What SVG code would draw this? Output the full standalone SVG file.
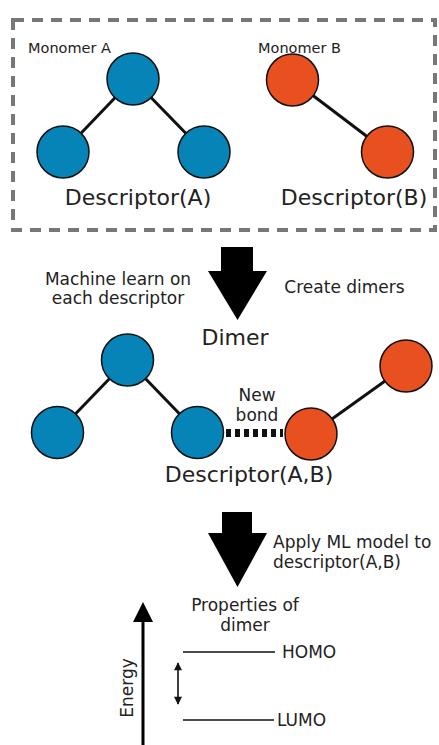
<svg xmlns="http://www.w3.org/2000/svg" width="439" height="745" viewBox="0 0 439 745">
  <defs>
    <style>
      text { font-family: "DejaVu Sans", Verdana, sans-serif; fill: #222; }
      .big { font-size: 22px; }
      .mid { font-size: 17px; }
      .small { font-size: 14.5px; }
      .atomA { fill: #0684b8; stroke: #111; stroke-width: 1.5; }
      .atomB { fill: #e8511f; stroke: #111; stroke-width: 1.5; }
      .bond { stroke: #111; stroke-width: 3; fill: none; }
      .level { stroke: #111; stroke-width: 1.5; fill: none; }
      .frame { fill: none; stroke: #777; stroke-width: 4; stroke-dasharray: 11 8; }
    </style>
    <marker id="tip" viewBox="0 0 10 10" refX="9" refY="5" markerWidth="10" markerHeight="8" markerUnits="userSpaceOnUse" orient="auto-start-reverse">
      <path d="M0,0 L10,5 L0,10 Z" fill="#111"/>
    </marker>
  </defs>

  <rect fill="#fff" x="0" y="0" width="439" height="745"/>

  <!-- monomers enclosure -->
  <rect id="monomers-frame" class="frame" x="13" y="20" width="422" height="210"/>

  <!-- connectors -->
  <g id="connectors">
    <!-- monomer A bonds -->
    <line class="bond" x1="133" y1="79" x2="63" y2="152"/>
    <line class="bond" x1="133" y1="79" x2="204" y2="152"/>
    <!-- monomer B bond -->
    <line class="bond" x1="292.5" y1="80" x2="387.5" y2="152"/>
    <!-- dimer bonds -->
    <line class="bond" x1="127.5" y1="360" x2="57.5" y2="432.5"/>
    <line class="bond" x1="127.5" y1="360" x2="197.5" y2="432.5"/>
    <line class="bond" x1="311" y1="434" x2="406" y2="366"/>
    <!-- new bond between the monomers -->
    <line x1="226" y1="433" x2="283" y2="433" stroke="#111" stroke-width="8" stroke-dasharray="5 4"/>
    <!-- process arrows -->
    <path d="M221,247 H253 V271 H267 L237.5,320 L208,271 H221 Z" fill="#000"/>
    <path d="M222,512 H252 V533 H267 L237.5,587 L208,533 H222 Z" fill="#000"/>
    <!-- energy axis -->
    <line x1="143" y1="745" x2="143" y2="620" stroke="#000" stroke-width="3"/>
    <path d="M133,622 L153,622 L143,602 Z" fill="#000"/>
    <!-- gap arrow -->
    <line x1="178" y1="663" x2="178" y2="704" stroke="#111" stroke-width="1.6" marker-start="url(#tip)" marker-end="url(#tip)"/>
  </g>

  <!-- monomer A -->
  <g id="monomer-a">
    <circle class="atomA" cx="133" cy="79" r="26"/>
    <circle class="atomA" cx="63" cy="152" r="26"/>
    <circle class="atomA" cx="204" cy="152" r="26"/>
    <text class="small" x="28" y="53">Monomer A</text>
    <text class="big" x="138" y="205" text-anchor="middle">Descriptor(A)</text>
  </g>

  <!-- monomer B -->
  <g id="monomer-b">
    <circle class="atomB" cx="292.5" cy="80" r="26"/>
    <circle class="atomB" cx="387.5" cy="152" r="26"/>
    <text class="small" x="258" y="53">Monomer B</text>
    <text class="big" x="354" y="205" text-anchor="middle">Descriptor(B)</text>
  </g>

  <!-- step labels -->
  <g id="step-labels">
    <text class="mid" text-anchor="middle"><tspan x="118" y="285">Machine learn on</tspan><tspan x="118" y="304">each descriptor</tspan></text>
    <text class="mid" x="344.5" y="293" text-anchor="middle">Create dimers</text>
    <text class="mid" x="273" y="548">Apply ML model to</text>
    <text class="mid" x="273" y="568">descriptor(A,B)</text>
  </g>

  <!-- dimer -->
  <g id="dimer">
    <text class="big" x="235" y="345" text-anchor="middle">Dimer</text>
    <circle class="atomA" cx="127.5" cy="360" r="26"/>
    <circle class="atomA" cx="57.5" cy="432.5" r="26"/>
    <circle class="atomA" cx="197.5" cy="432.5" r="26"/>
    <circle class="atomB" cx="311" cy="434" r="26"/>
    <circle class="atomB" cx="406" cy="366" r="26"/>
    <text class="mid" text-anchor="middle"><tspan x="257" y="401">New</tspan><tspan x="257" y="421">bond</tspan></text>
    <text class="big" x="249" y="482" text-anchor="middle">Descriptor(A,B)</text>
  </g>

  <!-- properties / energy levels -->
  <g id="properties">
    <text class="mid" text-anchor="middle"><tspan x="245" y="611">Properties of</tspan><tspan x="245" y="631">dimer</tspan></text>
    <line class="level" x1="183" y1="652" x2="275" y2="652"/>
    <text class="mid" x="282" y="658">HOMO</text>
    <line class="level" x1="183" y1="720" x2="274" y2="720"/>
    <text class="mid" x="277" y="726">LUMO</text>
    <text class="mid" transform="translate(133,688) rotate(-90)" text-anchor="middle">Energy</text>
  </g>
</svg>
